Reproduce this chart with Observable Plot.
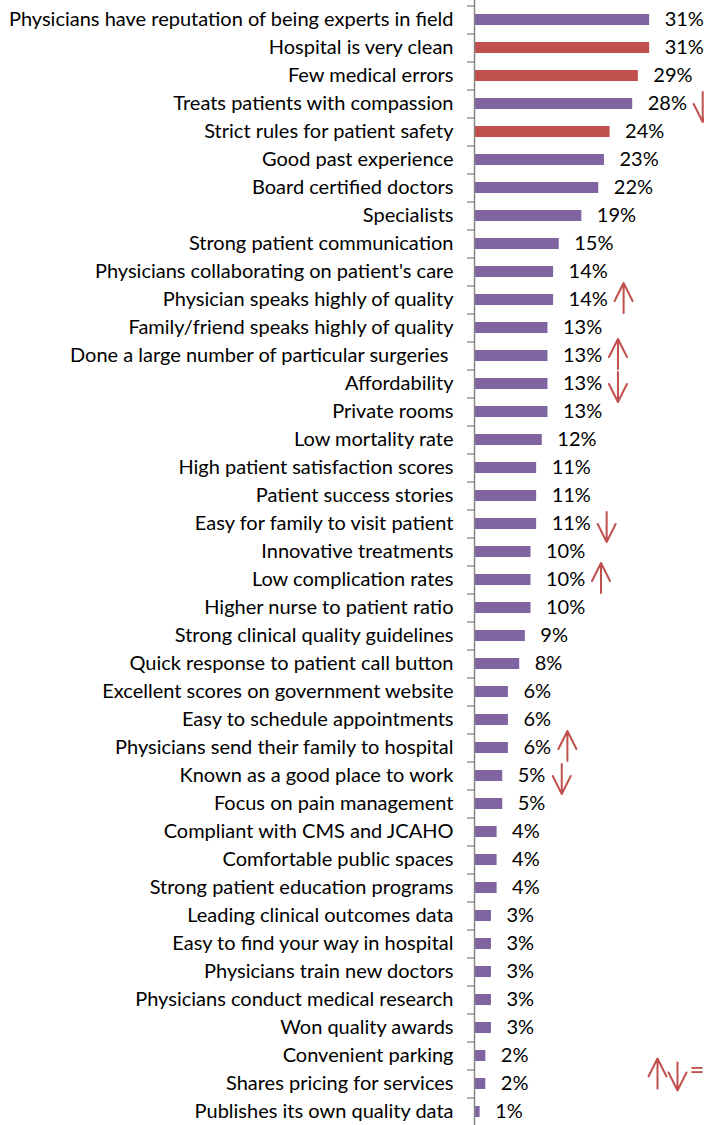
<!DOCTYPE html>
<html>
<head>
<meta charset="utf-8">
<script src="https://cdn.jsdelivr.net/npm/d3@7"></script>
<script src="https://cdn.jsdelivr.net/npm/@observablehq/plot@0.6"></script>
<style>
  html, body { margin: 0; padding: 0; background: #fff; }
  #chart svg { display: block; overflow: visible; }
</style>
</head>
<body>
<div id="chart"></div>
<script>
const categories = [
  "Physicians have reputation of being experts in field",
  "Hospital is very clean",
  "Few medical errors",
  "Treats patients with compassion",
  "Strict rules for patient safety",
  "Good past experience",
  "Board certified doctors",
  "Specialists",
  "Strong patient communication",
  "Physicians collaborating on patient's care",
  "Physician speaks highly of quality",
  "Family/friend speaks highly of quality",
  "Done a large number of particular surgeries\u00a0",
  "Affordability",
  "Private rooms",
  "Low mortality rate",
  "High patient satisfaction scores",
  "Patient success stories",
  "Easy for family to visit patient",
  "Innovative treatments",
  "Low complication rates",
  "Higher nurse to patient ratio",
  "Strong clinical quality guidelines",
  "Quick response to patient call button",
  "Excellent scores on government website",
  "Easy to schedule appointments",
  "Physicians send their family to hospital",
  "Known as a good place to work",
  "Focus on pain management",
  "Compliant with CMS and JCAHO",
  "Comfortable public spaces",
  "Strong patient education programs",
  "Leading clinical outcomes data",
  "Easy to find your way in hospital",
  "Physicians train new doctors",
  "Physicians conduct medical research",
  "Won quality awards",
  "Convenient parking",
  "Shares pricing for services",
  "Publishes its own quality data"
];
const values = [31,31,29,28,24,23,22,19,15,14,14,13,13,13,13,12,11,11,11,10,10,10,9,8,6,6,6,5,5,4,4,4,3,3,3,3,3,2,2,1];
const highlighted = ["Hospital is very clean", "Few medical errors", "Strict rules for patient safety"];
const upArrows = ["Physician speaks highly of quality", "Done a large number of particular surgeries\u00a0", "Low complication rates", "Physicians send their family to hospital"];
const downArrows = ["Treats patients with compassion", "Affordability", "Easy for family to visit patient", "Known as a good place to work"];

const data = categories.map((c, i) => ({category: c, value: values[i], highlight: highlighted.includes(c)}));

const PURPLE = "#8064A2";
const RED = "#C0504D";
const FONT = "Lato, 'Open Sans', sans-serif";
const FS = 20;

const arrowShape = {
  draw(context, l) {
    context.moveTo(0, 0);
    context.lineTo(0, -l);
    context.moveTo(-9, 18 - l);
    context.lineTo(0, -l);
    context.lineTo(9, 18 - l);
  }
};

function arrowMarks(list, rotate, dy) {
  const rows = data.filter(d => list.includes(d.category));
  const two = rows.filter(d => d.value >= 10);
  const one = rows.filter(d => d.value < 10);
  return [
    Plot.vector(two, {x: "value", y: "category", rotate, length: 30, shape: arrowShape, stroke: RED, strokeWidth: 2, dx: 70, dy}),
    Plot.vector(one, {x: "value", y: "category", rotate, length: 30, shape: arrowShape, stroke: RED, strokeWidth: 2, dx: 59, dy})
  ];
}

const chart = Plot.plot({
  width: 704,
  height: 1125,
  marginLeft: 474,
  marginRight: 4,
  marginTop: 0,
  marginBottom: 0,
  style: {fontFamily: FONT, fontSize: FS + "px", color: "#000", background: "#fff"},
  x: {domain: [0, 40], axis: null},
  y: {domain: categories, range: [4, 1127], paddingInner: 0.62, paddingOuter: 0.31, align: 0.5, label: null},
  marks: [
    Plot.barX(data, {x: "value", y: "category", fill: d => d.highlight ? RED : PURPLE}),
    Plot.axisY({tickSize: 0, tickPadding: 21, fontSize: FS, fill: "#000"}),
    Plot.ruleY(data, {y: "category", x1: 0, x2: 0, insetLeft: -7, dy: -14, stroke: "#868686", strokeWidth: 1.3}),
    Plot.ruleX([0], {stroke: "#868686", strokeWidth: 1.5}),
    Plot.text(data, {x: "value", y: "category", text: d => d.value + "%", textAnchor: "start", dx: 15, fontSize: FS, fill: "#000"}),
    ...arrowMarks(upArrows, 0, -2),
    ...arrowMarks(downArrows, 180, 3),
    Plot.vector([0], {frameAnchor: "bottom-right", rotate: 0, length: 30, shape: arrowShape, stroke: RED, strokeWidth: 2, dx: -43, dy: -52}),
    Plot.vector([0], {frameAnchor: "bottom-right", rotate: 180, length: 28, shape: arrowShape, stroke: RED, strokeWidth: 2, dx: -23, dy: -49}),
    Plot.text(["="], {frameAnchor: "bottom-right", text: d => d, textAnchor: "start", fontSize: 26, fill: RED, dx: -11, dy: -47})
  ]
});
document.getElementById("chart").appendChild(chart);
</script>
</body>
</html>
